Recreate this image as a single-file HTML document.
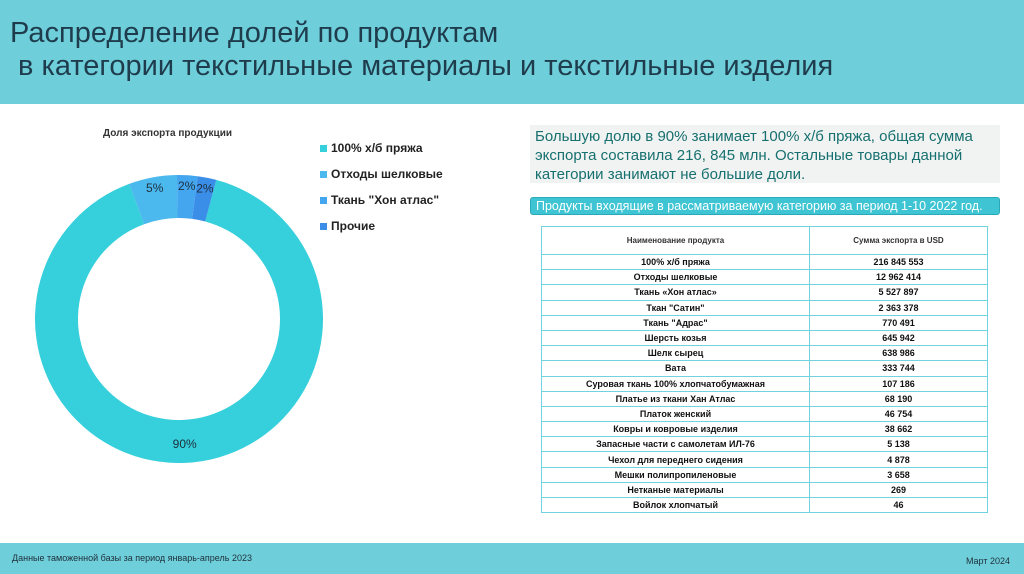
<!DOCTYPE html>
<html><head><meta charset="utf-8"><style>
*{margin:0;padding:0;box-sizing:border-box}
body{width:1024px;height:574px;position:relative;background:#fff;font-family:"Liberation Sans",sans-serif;overflow:hidden}
#hdr{position:absolute;left:0;top:0;width:1024px;height:104px;background:#6ecfdb}
#title{position:absolute;left:10px;top:17px;font-size:29px;line-height:33px;color:#1f3c4d}
#ftr{position:absolute;left:0;top:543px;width:1024px;height:31px;background:#6ecfdb;font-size:9px;color:#1f2f3a}
#txtbox{position:absolute;left:530px;top:125px;width:470px;height:58px;background:#f1f3f2;color:#16706f;font-size:15px;line-height:19px;padding:2px 5px}
#banner{position:absolute;left:530px;top:197px;width:470px;height:18px;background:#3ec4d3;border:1px solid #2aa9b8;border-radius:3px;color:#fff;font-size:12.5px;line-height:16px;padding-left:5px;white-space:nowrap}
table{position:absolute;left:541px;top:226px;width:447px;border-collapse:collapse;font-size:9px;font-weight:bold;color:#111}
td{border:1px solid #72d2dd;text-align:center;height:15.2px;padding:0;line-height:12px}
tr.h td{height:28px;font-size:8px;color:#333}
td:first-child{width:268px}
.leg{position:absolute;left:320px;font-size:12px;font-weight:bold;color:#222}
.leg span{display:inline-block;width:7px;height:7px;margin-right:4px}
</style></head><body>
<div id="hdr"></div>
<div id="title">Распределение долей по продуктам<br>&nbsp;в категории текстильные материалы и текстильные изделия</div>
<div style="position:absolute;left:103px;top:128px;font-size:10px;font-weight:bold;color:#333">Доля экспорта продукции</div>
<svg id="chart" width="340" height="330" style="position:absolute;left:0;top:160px"></svg>
<div id="legend"></div>
<div id="txtbox">Большую долю в 90% занимает 100% х/б пряжа, общая сумма экспорта составила 216, 845 млн. Остальные товары данной категории занимают не большие доли.</div>
<div id="banner">Продукты входящие в рассматриваемую категорию за период 1-10 2022 год.</div>
<table><tbody id="tb"><tr class="h"><td>Наименование продукта</td><td>Сумма экспорта в USD</td></tr></tbody></table>
<div id="ftr"><div style="position:absolute;left:12px;top:10px">Данные таможенной базы за период январь-апрель 2023</div><div style="position:absolute;right:14px;top:13px">Март 2024</div></div>
<script>
const categories=["100% х/б пряжа","Отходы шелковые","Ткань \"Хон атлас\"","Прочие"];
const values=[216845553,12962414,5527897,5027322];
const colors=["#36cfdc","#4bb8ee","#44a6ee","#3a8ee8"];
const products=["100% х/б пряжа","Отходы шелковые","Ткань «Хон атлас»","Ткан \"Сатин\"","Ткань \"Адрас\"","Шерсть козья","Шелк сырец","Вата","Суровая ткань 100% хлопчатобумажная","Платье из ткани Хан Атлас","Платок женский","Ковры и ковровые изделия","Запасные части с самолетам ИЛ-76","Чехол для переднего сидения","Мешки полипропиленовые","Нетканые материалы","Войлок хлопчатый"];
const amounts=["216 845 553","12 962 414","5 527 897","2 363 378","770 491","645 942","638 986","333 744","107 186","68 190","46 754","38 662","5 138","4 878","3 658","269","46"];
const NS="http://www.w3.org/2000/svg",svg=document.getElementById('chart');
const cx=179,cy=159,R=144,r=101,start=15;
const total=values.reduce((a,b)=>a+b,0);
function pt(a,rad){const t=(a-90)*Math.PI/180;return [cx+rad*Math.cos(t),cy+rad*Math.sin(t)];}
let a0=start;
values.forEach((v,i)=>{
  const sweep=v/total*360,a1=a0+sweep,lg=sweep>180?1:0;
  const p1=pt(a0,R),p2=pt(a1,R),p3=pt(a1,r),p4=pt(a0,r);
  const p=document.createElementNS(NS,'path');
  p.setAttribute('d',`M${p1}A${R},${R} 0 ${lg} 1 ${p2}L${p3}A${r},${r} 0 ${lg} 0 ${p4}Z`);
  p.setAttribute('fill',colors[i]);
  
  
  svg.appendChild(p);
  const m=pt(a0+sweep/2,i==0?125:133);
  const t=document.createElementNS(NS,'text');
  t.setAttribute('x',m[0]);t.setAttribute('y',m[1]+4);
  t.setAttribute('text-anchor','middle');t.setAttribute('font-size','12');t.setAttribute('fill','#1e2e3a');
  t.setAttribute('font-family','Liberation Sans, sans-serif');
  t.textContent=Math.round(v/total*100)+'%';
  
  
  svg.appendChild(t);
  a0=a1;
});
const lg=document.getElementById('legend');
categories.forEach((c,i)=>{
  const d=document.createElement('div');d.className='leg';d.style.top=(141+i*26)+'px';
  d.innerHTML='<span style="background:'+colors[i]+'"></span>'+c.replace(/</g,'&lt;');
  
  
  lg.appendChild(d);
});
const tb=document.getElementById('tb');
products.forEach((p,i)=>{
  const tr=document.createElement('tr');
  tr.innerHTML='<td></td><td></td>';
  tr.children[0].textContent=p;tr.children[1].textContent=amounts[i];
  
  
  tb.appendChild(tr);
});
</script>
</body></html>
